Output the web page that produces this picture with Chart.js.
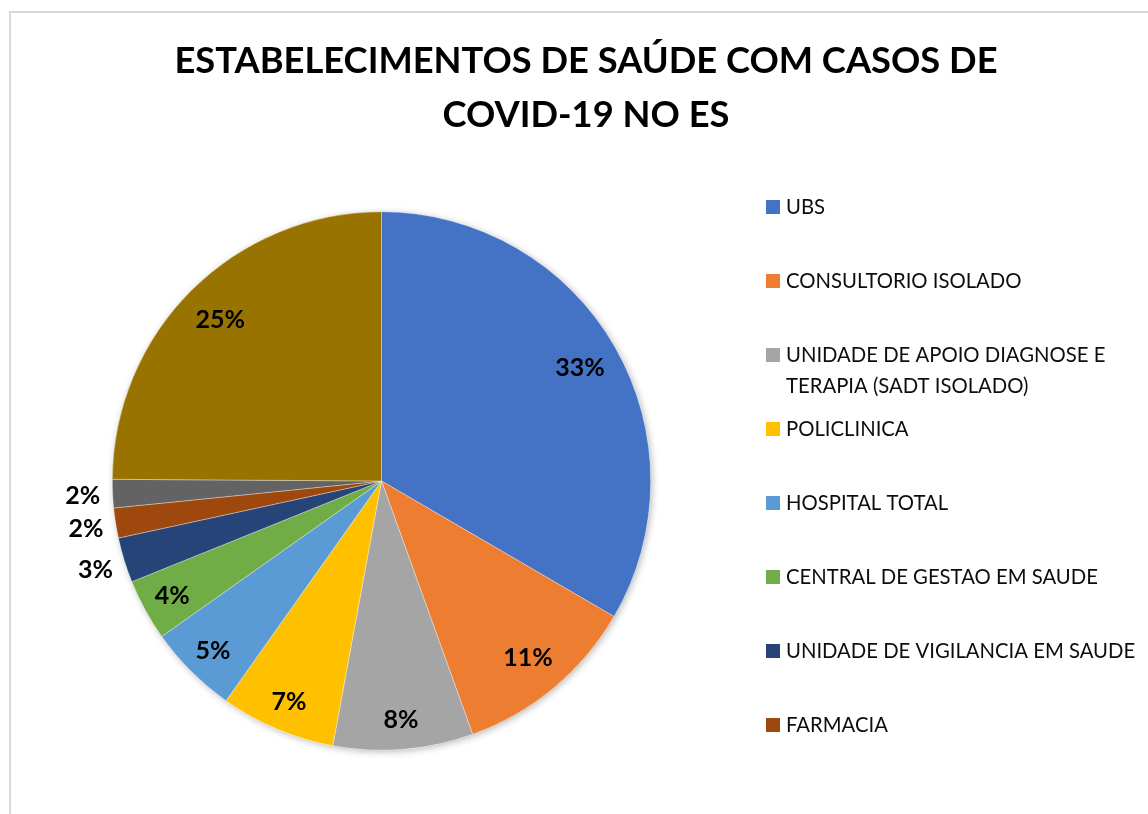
<!DOCTYPE html>
<html>
<head>
<meta charset="utf-8">
<script src="https://cdn.jsdelivr.net/npm/chart.js@4.4.0/dist/chart.umd.min.js"></script>
<style>
html,body{margin:0;padding:0;background:#fff;overflow:hidden}
#wrap{position:relative;width:1148px;height:814px}
#frame{position:absolute;left:9px;top:11px;width:1300px;height:1000px;border-left:2px solid #d9d9d9;border-top:2px solid #d9d9d9;box-sizing:border-box}
#c{position:absolute;left:0;top:0}
</style>
</head>
<body>
<div id="wrap">
<div id="frame"></div>
<canvas id="c" width="1148" height="814"></canvas>
</div>
<script>
// ---- data ----
const titleLines = ['ESTABELECIMENTOS DE SAÚDE COM CASOS DE', 'COVID-19 NO ES'];
const categories = [
  'UBS',
  'CONSULTORIO ISOLADO',
  'UNIDADE DE APOIO DIAGNOSE E TERAPIA (SADT ISOLADO)',
  'POLICLINICA',
  'HOSPITAL TOTAL',
  'CENTRAL DE GESTAO EM SAUDE',
  'UNIDADE DE VIGILANCIA EM SAUDE',
  'FARMACIA',
  'PRONTO ATENDIMENTO',
  'OUTROS'
];
const values = [33.4, 11.1, 8.4, 6.9, 5.4, 3.7, 2.7, 1.8, 1.7, 24.9];
const colors = ['#4472C4', '#ED7D31', '#A5A5A5', '#FFC000', '#5B9BD5', '#70AD47', '#264478', '#9E480E', '#636363', '#997300'];
const legendCount = 8; // entries visible in the reference legend

const FONT = 'Lato, "Open Sans", "Liberation Sans", sans-serif';

const shadowPlugin = {
  id: 'pieShadow',
  beforeDatasetsDraw(chart) {
    const arc = chart.getDatasetMeta(0).data[0];
    if (!arc) return;
    const ctx = chart.ctx;
    ctx.save();
    ctx.shadowColor = 'rgba(0,0,0,0.28)';
    ctx.shadowBlur = 7;
    ctx.shadowOffsetX = 1.5;
    ctx.shadowOffsetY = 1.5;
    ctx.fillStyle = '#ffffff';
    ctx.beginPath();
    ctx.arc(arc.x, arc.y, arc.outerRadius, 0, Math.PI * 2);
    ctx.fill();
    ctx.restore();
  }
};

const labelPlugin = {
  id: 'pctLabels',
  afterDatasetsDraw(chart) {
    const ctx = chart.ctx;
    const ds = chart.data.datasets[0].data;
    const total = ds.reduce((a, b) => a + b, 0);
    ctx.save();
    ctx.font = 'bold 25px ' + FONT;
    ctx.fillStyle = '#000';
    ctx.textAlign = 'center';
    ctx.textBaseline = 'middle';
    chart.getDatasetMeta(0).data.forEach((arc, i) => {
      const p = arc.getProps(['x', 'y', 'startAngle', 'endAngle', 'outerRadius']);
      const mid = (p.startAngle + p.endAngle) / 2;
      const span = p.endAngle - p.startAngle;
      const pct = Math.round(ds[i] / total * 100);
      let r;
      if (span < 0.19) r = p.outerRadius + 30;
      else r = p.outerRadius * (pct >= 10 ? 0.85 : 0.885);
      ctx.fillText(pct + '%', p.x + Math.cos(mid) * r, p.y + Math.sin(mid) * r + 1);
    });
    ctx.restore();
  }
};

const titlePlugin = {
  id: 'titleText',
  afterDraw(chart) {
    const ctx = chart.ctx;
    ctx.save();
    ctx.font = 'bold 36.3px ' + FONT;
    ctx.fillStyle = '#000';
    ctx.textAlign = 'center';
    ctx.textBaseline = 'alphabetic';
    titleLines.forEach((t, i) => ctx.fillText(t, 586, 73 + i * 54));
    ctx.restore();
  }
};

const legendPlugin = {
  id: 'sideLegend',
  afterDraw(chart) {
    const ctx = chart.ctx;
    ctx.save();
    ctx.font = '20.3px ' + FONT;
    ctx.textAlign = 'left';
    ctx.textBaseline = 'alphabetic';
    const maxW = 380;
    const labels = chart.data.labels;
    const bg = chart.data.datasets[0].backgroundColor;
    for (let i = 0; i < legendCount; i++) {
      const cy = 207 + i * 74;
      ctx.fillStyle = bg[i];
      ctx.fillRect(766, cy - 7, 14, 14);
      ctx.fillStyle = '#0d0d0d';
      // word wrap
      const words = labels[i].split(' ');
      const lines = [];
      let cur = '';
      words.forEach(w => {
        const test = cur ? cur + ' ' + w : w;
        if (ctx.measureText(test).width > maxW && cur) { lines.push(cur); cur = w; }
        else cur = test;
      });
      if (cur) lines.push(cur);
      lines.forEach((ln, k) => ctx.fillText(ln, 786, cy + 7 + k * 30.5));
    }
    ctx.restore();
  }
};

new Chart(document.getElementById('c'), {
  type: 'pie',
  data: {
    labels: categories,
    datasets: [{
      data: values,
      backgroundColor: colors,
      borderColor: 'rgba(255,255,255,0.55)',
      borderWidth: 0.6,
      hoverOffset: 0
    }]
  },
  options: {
    responsive: false,
    animation: false,
    events: [],
    layout: { padding: { left: 112, right: 497, top: 211, bottom: 63 } },
    plugins: {
      legend: { display: false },
      title: { display: false },
      tooltip: { enabled: false }
    }
  },
  plugins: [shadowPlugin, labelPlugin, titlePlugin, legendPlugin]
});
</script>
</body>
</html>
